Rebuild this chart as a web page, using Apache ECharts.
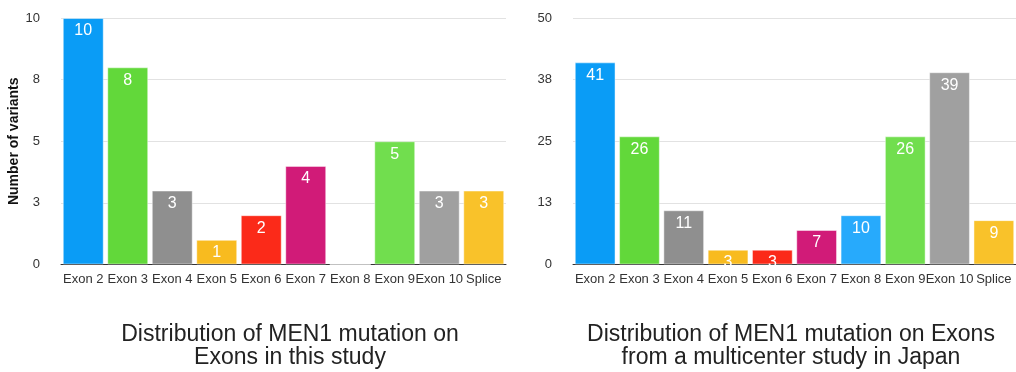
<!DOCTYPE html>
<html>
<head>
<meta charset="utf-8">
<script src="https://cdn.jsdelivr.net/npm/echarts@6/dist/echarts.min.js"></script>
<style>
  html, body { margin: 0; padding: 0; background: #fff; }
  #chart { width: 1016px; height: 372px; }
</style>
</head>
<body>
<div id="chart"></div>
<script>
// Categories shared by both panels
const categories = ['Exon 2', 'Exon 3', 'Exon 4', 'Exon 5', 'Exon 6', 'Exon 7', 'Exon 8', 'Exon 9', 'Exon 10', 'Splice'];

// Variant counts per exon
const thisStudy = [10, 8, 3, 1, 2, 4, 0, 5, 3, 3];
const japanStudy = [41, 26, 11, 3, 3, 7, 10, 26, 39, 9];

// Bar colours per category
const barColors = ['#0a9cf6', '#62d83a', '#8f8f8f', '#f8bb1f', '#fb2a19', '#d11b78', '#27aafc', '#71de4e', '#a0a0a0', '#f9c22a'];

// Axis extents and tick steps
const leftMax = 10, leftStep = 2.5;
const rightMax = 50, rightStep = 12.5;

const titles = [
  'Distribution of MEN1 mutation on\nExons in this study',
  'Distribution of MEN1 mutation on Exons\nfrom a multicenter study in Japan'
];

const FONT = '"Liberation Sans", Arial, Helvetica, sans-serif';

function makeData(values) {
  return values.map((v, i) => ({
    value: v,
    itemStyle: { color: barColors[i] },
    label: { show: v > 0 }
  }));
}

const grids = [
  { left: 61, top: 18, width: 445, height: 246.5 },
  { left: 573, top: 18, width: 446, height: 246.5 }
];

function xAxis(gridIndex) {
  return {
    type: 'category', gridIndex, data: categories,
    axisTick: { show: false },
    axisLine: { lineStyle: { color: '#333', width: 1 } },
    axisLabel: { color: '#333', fontSize: 13, fontFamily: FONT, interval: 0, margin: 8, hideOverlap: false }
  };
}

function yAxis(gridIndex, max, step, name) {
  return {
    type: 'value', gridIndex, min: 0, max, interval: step,
    name, nameLocation: 'middle', nameGap: 37,
    nameTextStyle: { color: '#111', fontSize: 14, fontWeight: 'bold', fontFamily: FONT },
    axisLine: { show: false }, axisTick: { show: false },
    splitLine: { lineStyle: { color: '#e2e2e2', width: 1 } },
    axisLabel: { color: '#333', fontSize: 13, fontFamily: FONT, margin: 21, formatter: v => String(Math.round(v)) }
  };
}

function series(idx, values) {
  return {
    type: 'bar', xAxisIndex: idx, yAxisIndex: idx,
    data: makeData(values),
    barCategoryGap: '8%',
    itemStyle: { borderColor: 'rgba(255,255,255,0.45)', borderWidth: 1 },
    label: {
      position: 'insideTop', distance: 5, color: '#fff',
      fontSize: 16, fontFamily: FONT
    },
    emphasis: { disabled: true },
    animation: false
  };
}

// Panel captions below each chart
function caption(text, cx) {
  return {
    type: 'text', x: cx, y: 323, silent: true,
    style: {
      text, align: 'center', verticalAlign: 'top',
      font: '23px ' + FONT, lineHeight: 23, fill: '#222'
    }
  };
}

const chart = echarts.init(document.getElementById('chart'), null, { renderer: 'canvas' });
chart.setOption({
  backgroundColor: '#fff',
  animation: false,
  grid: grids,
  xAxis: [xAxis(0), xAxis(1)],
  yAxis: [yAxis(0, leftMax, leftStep, 'Number of variants'), yAxis(1, rightMax, rightStep, '')],
  series: [series(0, thisStudy), series(1, japanStudy)],
  graphic: [caption(titles[0], 290), caption(titles[1], 791)]
});
</script>
</body>
</html>
